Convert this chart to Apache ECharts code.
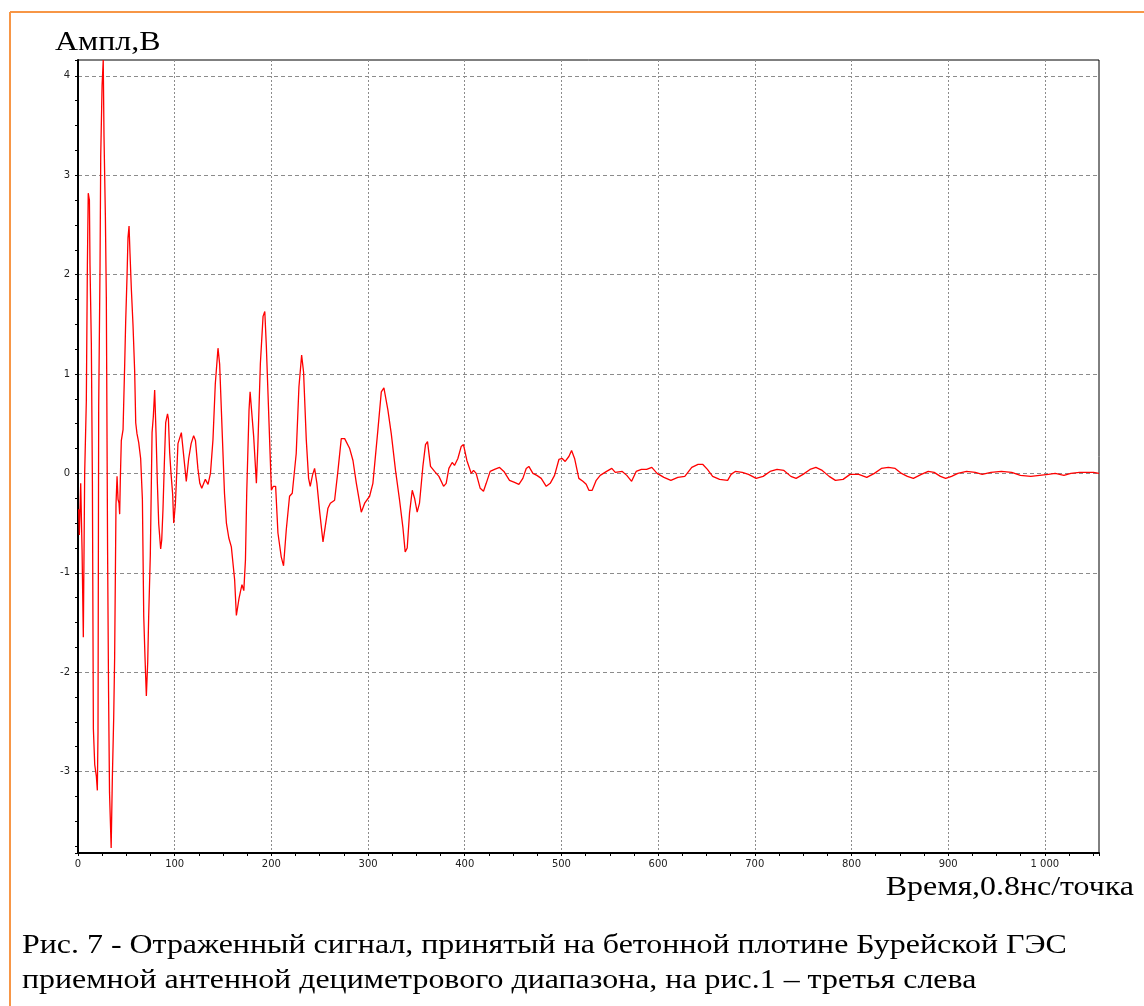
<!DOCTYPE html>
<html>
<head>
<meta charset="utf-8">
<title>Отраженный сигнал</title>
<script src="https://cdn.jsdelivr.net/npm/echarts@6/dist/echarts.min.js"></script>
<style>
  html, body { margin: 0; padding: 0; background: #ffffff; }
  #chart { width: 1144px; height: 1006px; }
</style>
</head>
<body>
<div id="chart"></div>
<script>
// Sample index (0.8 ns per point) of each digitised vertex of the trace
const timeIdx = [
  0.7, 1.4, 2.8, 4.2, 5.5, 6.9, 8.6, 9.7, 10.6, 11.8, 12.4, 13.8, 14.9, 15.9, 17.3, 19, 20, 20.7,
  21.4, 22.8, 23.5, 24.9, 26.1, 26.9, 28.3, 29.3, 30.6, 31.6, 32.6, 34.3, 35.5, 36.9, 37.9, 39.3,
  40.4, 41.4, 42.4, 43.1, 43.8, 44.8, 46.6, 48.3, 49.3, 50.7, 51.7, 52.8, 53.8, 55.2, 56.9, 58.6,
  59.7, 61.0, 62.8, 64.8, 66.6, 68, 69.3, 70.7, 72.1, 73.1, 74.8, 76.6, 77.9, 79.3, 80.7, 82.1,
  83.5, 85.5, 86.6, 87.9, 89.3, 90.7, 92.6, 93.5, 94.8, 96.2, 97.9, 99, 100.7, 102.1, 103.4, 106.9,
  112, 114.5, 117, 119.6, 121.5, 124, 126, 128, 131.7, 134.5, 137, 139.6, 142, 144.8, 146.5, 149.3,
  151.5, 153.5, 156, 158.6, 162, 163.8, 166.5, 168, 169.6, 171.5, 172.4, 173.2, 174.5, 176.9, 178, 179.3,
  181.7, 184.5, 186, 188.6, 191.4, 193.2, 194.8, 197.6, 200, 202, 204.4, 206.8, 210.2, 212.6, 215.4, 218.8,
  221.6, 225.7, 228.5, 231.3, 233.3, 236.1, 238.5, 240.2, 242.5, 244.7, 247.1, 250, 253.4, 258.5, 261, 265.4,
  268.9, 272.3, 275.8, 281, 284.4, 287.9, 293, 296.5, 301.6, 305, 310.2, 313.7, 316.4, 320.5, 324, 328.4,
  332.6, 336, 338.4, 340.5, 342.9, 345.7, 348.1, 350.8, 353.2, 356.7, 359.4, 361.5, 364.6, 368.8, 373.3, 378.1,
  380.8, 383.6, 387, 389.4, 392.9, 396.3, 398.7, 402.2, 406.7, 409.1, 411.8, 416, 419.4, 422.2, 426.3, 430.8,
  436, 440.5, 446.3, 451.5, 456, 460.1, 463.6, 466.3, 470.5, 474.6, 479.1, 484.3, 488.4, 492.9, 497.4, 500.8,
  503.9, 507.7, 510.5, 513.6, 518, 522.2, 525.6, 528.4, 531.8, 536, 540.1, 546.7, 552.1, 555.7, 562.9, 567.6,
  572.6, 577.3, 582.7, 588.1, 593.5, 598.9, 606, 613.2, 620.4, 627.6, 634.8, 641.3, 646.3, 651, 656.4, 663.6,
  671.9, 675.5, 679.8, 687, 693.5, 701.4, 708.6, 715.8, 723, 730.1, 737.3, 742.7, 749.9, 757.1, 763.2, 769.7,
  776.9, 783.4, 791.3, 798.5, 807.5, 815.8, 823.7, 830.9, 838.1, 845.2, 851.7, 857.8, 864, 872.2, 879.4, 885.5,
  892, 897.4, 903.5, 910, 919, 928, 935.2, 944.2, 955, 965.7, 974.7, 985.5, 994.5, 1003.5, 1010.7, 1019.7,
  1026.9, 1035.9, 1043.1, 1050.3, 1056
];

// Amplitude, V, at each vertex above
const amplitude = [
  -0.36, -0.62, -0.1, -0.77, -1.65, 0, 0.72, 2.1, 2.82, 2.75, 2.1, 1.31, -0.1, -2.57, -2.93, -3.05, -3.19, -2.6,
  0.67, 2.1, 3.19, 3.9, 4.16, 3.39, 2.6, 1.77, -0.77, -2.19, -3.21, -3.77, -3.08, -2.47, -1.85, -0.31,
  -0.03, -0.26, -0.3, -0.41, -0.05, 0.33, 0.44, 1.1, 1.52, 1.98, 2.37, 2.49, 2.21, 1.85, 1.49, 1.03,
  0.51, 0.4, 0.31, 0.15, -0.26, -1.44, -1.85, -2.24, -1.9, -1.44, -0.82, 0.41, 0.57, 0.84, 0.41, -0.1,
  -0.51, -0.76, -0.67, -0.36, 0.1, 0.51, 0.6, 0.55, 0.21, 0, -0.21, -0.5, -0.31, 0, 0.3, 0.41,
  -0.08, 0.15, 0.3, 0.38, 0.33, 0.05, -0.1, -0.15, -0.06, -0.11, 0.0, 0.34, 0.9, 1.26, 1.1, 0.37,
  -0.2, -0.5, -0.65, -0.74, -1.07, -1.43, -1.26, -1.19, -1.12, -1.18, -1.2, -0.87, -0.2, 0.64, 0.82, 0.84,
  0.37, -0.1, 0.27, 1.1, 1.58, 1.63, 1.28, 0.5, -0.17, -0.13, -0.13, -0.6, -0.84, -0.93, -0.57, -0.23,
  -0.2, 0.2, 0.87, 1.19, 1.02, 0.34, -0.05, -0.13, -0.02, 0.05, -0.1, -0.39, -0.69, -0.35, -0.3, -0.27,
  0.03, 0.35, 0.35, 0.25, 0.13, -0.1, -0.39, -0.3, -0.23, -0.1, 0.44, 0.82, 0.86, 0.64, 0.4, 0.03,
  -0.27, -0.54, -0.79, -0.75, -0.4, -0.17, -0.25, -0.39, -0.3, 0.07, 0.29, 0.32, 0.07, 0.02, -0.03, -0.13,
  -0.1, 0.05, 0.11, 0.08, 0.15, 0.27, 0.29, 0.13, 0, 0.03, 0, -0.15, -0.18, -0.1, 0.02, 0.04,
  0.06, 0.02, -0.07, -0.09, -0.11, -0.05, 0.05, 0.07, 0, -0.02, -0.05, -0.13, -0.1, -0.02, 0.14, 0.15,
  0.12, 0.17, 0.23, 0.15, -0.05, -0.08, -0.11, -0.17, -0.17, -0.07, -0.02, 0.02, 0.05, 0.01, 0.02, -0.02,
  -0.08, 0.02, 0.04, 0.04, 0.06, 0, -0.04, -0.07, -0.04, -0.03, 0.06, 0.09, 0.09, 0.04, -0.03, -0.06,
  -0.07, -0.01, 0.02, 0.01, -0.01, -0.05, -0.03, 0.02, 0.04, 0.03, -0.03, -0.05, -0.01, 0.04, 0.06, 0.03,
  -0.03, -0.07, -0.06, -0.01, -0.01, -0.04, 0, 0.05, 0.06, 0.05, 0, -0.03, -0.05, -0.01, 0.02, 0.01,
  -0.03, -0.05, -0.03, 0, 0.02, 0.01, -0.01, 0.01, 0.02, 0.01, -0.02, -0.03, -0.02, -0.01, 0, -0.02,
  0, 0.01, 0.01, 0.01, 0
];

// Axis extents
const timeRange = [0, 1056];
const ampRange = [-3.82, 4.16];

const yAxisTitle = 'Ампл,В';
const xAxisTitle = 'Время,0.8нс/точка';
const captionLines = [
  'Рис. 7 - Отраженный сигнал, принятый на бетонной плотине Бурейской ГЭС',
  'приемной антенной дециметрового диапазона, на рис.1 – третья слева'
];

const points = timeIdx.map((t, i) => [t, amplitude[i]]);

const chart = echarts.init(document.getElementById('chart'), null, { renderer: 'canvas' });

const serifFont = '28px "Liberation Serif", "Times New Roman", serif';
const textStretch = 1.14;
const tickFont = { fontFamily: '"DejaVu Sans", Verdana, sans-serif', fontSize: 10, color: '#222' };

function thousands(v) {
  return String(v).replace(/\B(?=(\d{3})+(?!\d))/g, ' ');
}

// Serif caption text, slightly widened like the original typesetting
function serifText(x, y, text, align) {
  return {
    type: 'text', x: x, y: y, scaleX: textStretch, silent: true,
    style: { x: 0, y: 0, text: text, font: serifFont, fill: '#000', align: align, verticalAlign: 'middle' }
  };
}

chart.setOption({
  animation: false,
  backgroundColor: '#ffffff',
  grid: {
    left: 78, top: 60, right: 45, bottom: 153,
    show: true, borderColor: '#000', borderWidth: 1, backgroundColor: 'transparent',
    containLabel: false, outerBoundsMode: 'none'
  },
  xAxis: {
    type: 'value',
    min: timeRange[0], max: timeRange[1],
    splitNumber: 10,
    axisLine: { show: true, onZero: false, lineStyle: { color: '#000', width: 2 } },
    axisTick: { show: true, length: 3, lineStyle: { color: '#000', width: 1 } },
    minorTick: { show: true, splitNumber: 4, length: 3, lineStyle: { color: '#000', width: 1 } },
    axisLabel: { show: true, margin: 6, showMaxLabel: false, formatter: thousands, ...tickFont },
    splitLine: { show: true, showMinLine: false, showMaxLine: false,
      lineStyle: { color: '#8c8c8c', width: 1, type: [2, 2] } },
    minorSplitLine: { show: false }
  },
  yAxis: {
    type: 'value',
    min: ampRange[0], max: ampRange[1],
    splitNumber: 8,
    axisLine: { show: true, onZero: false, lineStyle: { color: '#000', width: 2 } },
    axisTick: { show: true, length: 3, lineStyle: { color: '#000', width: 1 } },
    minorTick: { show: true, splitNumber: 4, length: 3, lineStyle: { color: '#000', width: 1 } },
    axisLabel: { show: true, margin: 8, showMinLabel: false, showMaxLabel: false, ...tickFont },
    splitLine: { show: true, showMinLine: false, showMaxLine: false,
      lineStyle: { color: '#8c8c8c', width: 1, type: [4, 3] } },
    minorSplitLine: { show: false }
  },
  series: [{
    type: 'line',
    data: points,
    showSymbol: false,
    smooth: false,
    clip: true,
    lineStyle: { color: '#ff0000', width: 1.3 },
    emphasis: { disabled: true }
  }],
  graphic: [
    // page frame
    { type: 'line', shape: { x1: 10, y1: 12, x2: 1144, y2: 12 }, style: { stroke: '#f79646', lineWidth: 2 }, silent: true },
    { type: 'line', shape: { x1: 10, y1: 12, x2: 10, y2: 1006 }, style: { stroke: '#f79646', lineWidth: 2 }, silent: true },
    serifText(55, 43, yAxisTitle, 'left'),
    serifText(1134, 888, xAxisTitle, 'right'),
    serifText(22, 946, captionLines[0], 'left'),
    serifText(22, 981, captionLines[1], 'left')
  ]
});
</script>
</body>
</html>
